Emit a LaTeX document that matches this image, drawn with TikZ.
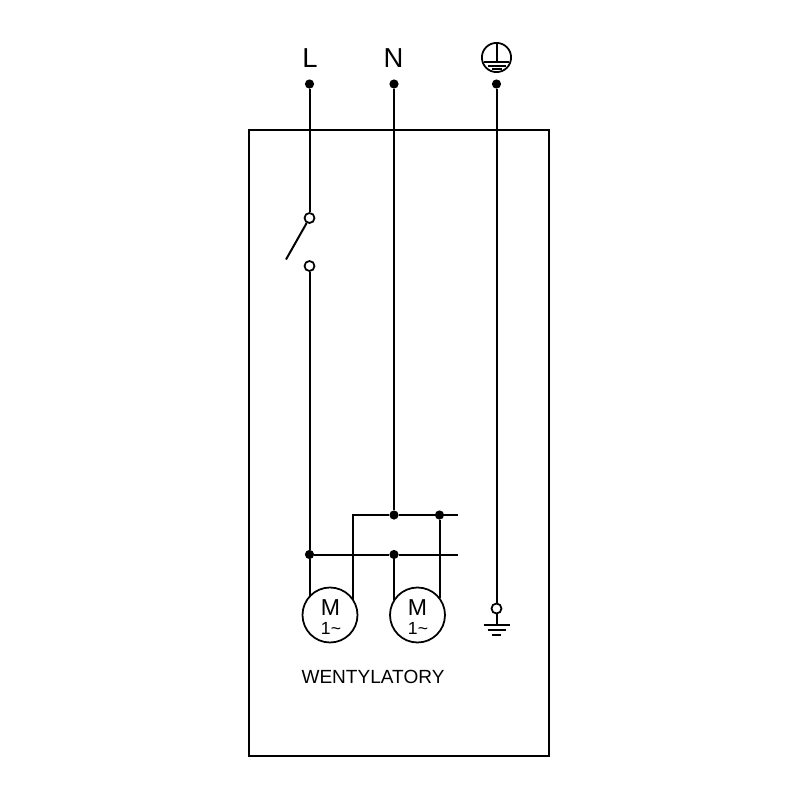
\documentclass[tikz,border=0pt]{standalone}
\usepackage{fontspec}
\setmainfont{Liberation Sans}

\begin{document}
\begin{tikzpicture}[x=0.25mm, y=-0.25mm, main/.style={draw, circle, inner sep=0pt, minimum size=13.75mm, line width=0.44mm, align=center}, dot/.style={circle, fill=black, inner sep=0pt, minimum size=2.3mm}, open/.style={draw, circle, fill=white, inner sep=0pt, minimum size=2.5mm, line width=0.44mm}, info/.style={inner sep=0pt}, n/.style={line width=0.5mm}, bar/.style={line width=0.5mm}]
            \useasboundingbox (0,0) rectangle (800,800);
            % nodes
            \node[info, font=\fontsize{19.5}{20}\selectfont] (labL) at (310,58.5) {L};
            \node[info, font=\fontsize{19.5}{20}\selectfont] (labN) at (393.5,58.5) {N};
            \node[draw, circle, inner sep=0pt, minimum size=7.3mm, line width=0.44mm] (pe) at (496.5,57.5) {};
            \node[dot] (inL) at (309.5,84) {};
            \node[dot] (inN) at (394,84) {};
            \node[dot] (inPE) at (496.5,84) {};
            \node[open] (sw1) at (309.5,218) {};
            \node[open] (sw2) at (309.5,266) {};
            \coordinate (arm) at (286,259.5);
            \node[dot] (busN) at (394,515) {};
            \node[dot] (busNr) at (439.5,515) {};
            \node[dot] (busL) at (309.5,554.5) {};
            \node[dot] (busLr) at (394,554.5) {};
            \coordinate (cornerN) at (353,515);
            \coordinate (endN) at (458,515);
            \coordinate (endL) at (458,554.5);
            \node[main] (m1) at (330,615) {};
            \node[main] (m2) at (417.5,615) {};
            \node[info, font=\fontsize{16.4}{17}\selectfont] (m1a) at (330.5,607.5) {M};
            \node[info, font=\fontsize{12.5}{13}\selectfont] (m1b) at (331,628.5) {1\textasciitilde};
            \node[info, font=\fontsize{16.4}{17}\selectfont] (m2a) at (417.5,607.5) {M};
            \node[info, font=\fontsize{12.5}{13}\selectfont] (m2b) at (418,628.5) {1\textasciitilde};
            \node[open] (tPE) at (496.5,608.5) {};
            \coordinate (gnd) at (496.5,624.5);
            \node[info, font=\fontsize{13.55}{14}\selectfont] (fans) at (373,677) {WENTYLATORY};
            % box
            \draw [n] (249,130) rectangle (549,756);
            % edges
            \draw [n] (inL) -- (sw1);
            \draw [n] (sw1) -- (arm);
            \draw [n] (sw2) -- (busL);
            \draw [n] (busL) -- (busL |- m1.140);
            \draw [n] (inN) -- (busN);
            \draw [n] (inPE) -- (tPE);
            \draw [n] (tPE) -- (gnd);
            \draw [n] (busL) -- (busLr);
            \draw [n] (busLr) -- (endL);
            \draw [n] (cornerN |- m1.33) -- (cornerN) -- (busN);
            \draw [n] (busN) -- (busNr);
            \draw [n] (busNr) -- (endN);
            \draw [n] (busLr) -- (busLr |- m2.148);
            \draw [n] (busNr) -- (busNr |- m2.36);
            % earth marks
            \draw [bar] (483.5,624.5) -- (509.5,624.5);
            \draw [bar] (487.5,629.5) -- (505.5,629.5);
            \draw [bar] (492,634.5) -- (501,634.5);
            \draw [bar] (pe.north) -- (496.5,62);
            \draw [bar] (484,62) -- (509,62);
            \draw [bar] (488,65.5) -- (505.5,65.5);
            \draw [bar] (492,69) -- (502,69);
        \end{tikzpicture}
\end{document}
